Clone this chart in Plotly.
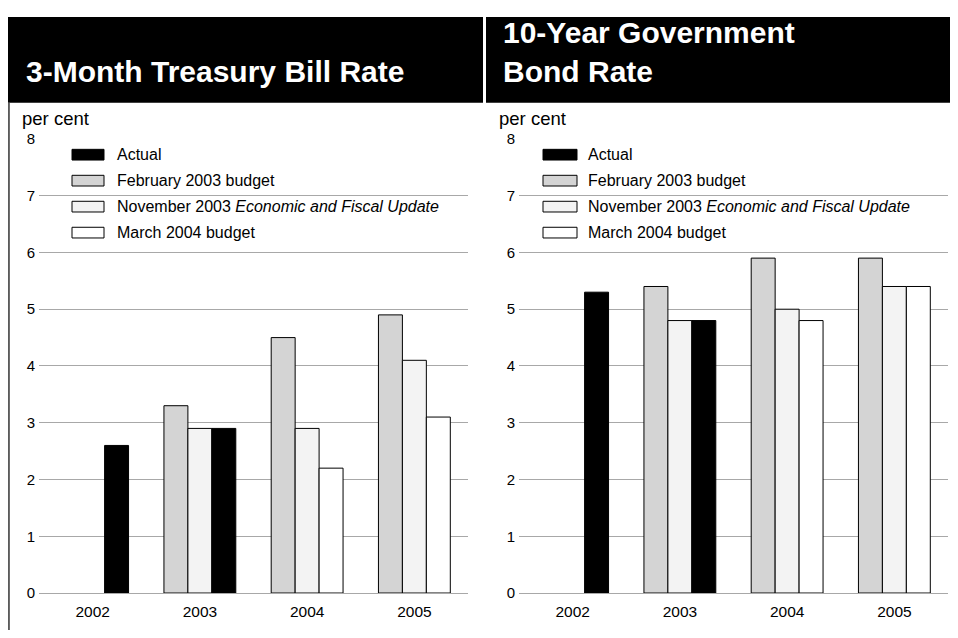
import plotly.graph_objects as go

# page body adds an 8px margin, so the figure is 8px smaller than the window
OFF = 8
W, H = 958 - OFF, 638 - OFF

# ---------------- data ----------------
years = ["2002", "2003", "2004", "2005"]
series_labels = [
    "Actual",
    "February 2003 budget",
    "November 2003 <i>Economic and Fiscal Update</i>",
    "March 2004 budget",
]
series_colors = ["#000000", "#d4d4d4", "#f3f3f3", "#ffffff"]

tbill_actual = [2.6, 2.9, None, None]
tbill_feb03 = [None, 3.3, 4.5, 4.9]
tbill_nov03 = [None, 2.9, 2.9, 4.1]
tbill_mar04 = [None, None, 2.2, 3.1]

bond_actual = [5.3, 4.8, None, None]
bond_feb03 = [None, 5.4, 5.9, 5.9]
bond_nov03 = [None, 4.8, 5.0, 5.4]
bond_mar04 = [None, None, 4.8, 5.4]

y_ticks = [0, 1, 2, 3, 4, 5, 6, 7, 8]
panel_titles = ["3-Month Treasury Bill Rate", "10-Year Government<br>Bond Rate"]
unit_label = "per cent"

# ---------------- layout helpers (window pixel -> paper) ----------------
def px(x):
    return max(0.0, (x - OFF) / W)

def py(y):
    return min(1.0, 1 - (y - OFF) / H)

FONT = "Liberation Sans, Arial, Helvetica, sans-serif"
panels = [
    dict(xaxis="x", yaxis="y", left=39, right=468, title_x=24, unit_x=20,
         sw_x=72, sw_w=32, txt_x=115, hdr=(4, 483),
         data=[tbill_actual, tbill_feb03, tbill_nov03, tbill_mar04]),
    dict(xaxis="x2", yaxis="y2", left=519, right=948, title_x=501, unit_x=497,
         sw_x=543, sw_w=34, txt_x=586, hdr=(486, 958),
         data=[bond_actual, bond_feb03, bond_nov03, bond_mar04]),
]
plot_top, plot_bottom = 133.3, 600
# draw order: Feb (slot 1), Nov (slot 2), March (slot 3), Actual (shares slot 3)
draw_order = [1, 2, 3, 0]
groups = {0: "c", 1: "a", 2: "b", 3: "c"}

fig = go.Figure()
for p in panels:
    for i in draw_order:
        fig.add_trace(go.Bar(
            x=years, y=p["data"][i], name=series_labels[i],
            offsetgroup=groups[i],
            marker=dict(color=series_colors[i], line=dict(color="#000000", width=1)),
            xaxis=p["xaxis"], yaxis=p["yaxis"], showlegend=False,
            hoverinfo="x+y",
        ))

shapes = []
annotations = []
for k, p in enumerate(panels):
    # black header
    shapes.append(dict(type="rect", xref="paper", yref="paper",
                       x0=px(p["hdr"][0]), x1=px(p["hdr"][1]),
                       y0=py(96), y1=py(2), fillcolor="#000000",
                       line=dict(width=0), layer="below"))
    # title
    annotations.append(dict(text=panel_titles[k], xref="paper", yref="paper",
                            x=px(p["title_x"]), y=py(83), xanchor="left", yanchor="bottom",
                            showarrow=False, align="left",
                            font=dict(family=FONT, size=30, color="#ffffff", weight="bold")))
    # unit
    annotations.append(dict(text=unit_label, xref="paper", yref="paper",
                            x=px(p["unit_x"]), y=py(112), xanchor="left", yanchor="middle",
                            showarrow=False, font=dict(family=FONT, size=18.5, color="#000000")))
    # legend
    for i, lab in enumerate(series_labels):
        yc = 149.5 + 26.7 * i
        shapes.append(dict(type="rect", xref="paper", yref="paper",
                           x0=px(p["sw_x"]), x1=px(p["sw_x"] + p["sw_w"]),
                           y0=py(yc + 5.5), y1=py(yc - 5.5),
                           fillcolor=series_colors[i], line=dict(color="#000000", width=1)))
        annotations.append(dict(text=lab, xref="paper", yref="paper",
                                x=px(p["txt_x"]), y=py(yc), xanchor="left", yanchor="middle",
                                showarrow=False, font=dict(family=FONT, size=16, color="#000000")))

# left frame line
shapes.append(dict(type="line", xref="paper", yref="paper", x0=0.001, x1=0.001,
                   y0=0, y1=py(96), line=dict(color="#333333", width=1.5)))

axis_common_y = dict(range=[0, 8], tickvals=y_ticks, showgrid=True, gridcolor="#a8a8a8",
                     gridwidth=1, zeroline=True, zerolinecolor="#a8a8a8", zerolinewidth=1,
                     showline=False, ticks="", ticklabelstandoff=3,
                     tickfont=dict(family=FONT, size=15, color="#000000"),
                     domain=[py(plot_bottom), py(plot_top)], fixedrange=True)
axis_common_x = dict(type="category", showgrid=False, zeroline=False, showline=False,
                     ticks="", ticklabelstandoff=7, range=[-0.5, 3.5],
                     tickfont=dict(family=FONT, size=15.5, color="#000000"), fixedrange=True)

fig.update_layout(
    width=W, height=H, margin=dict(l=0, r=0, t=0, b=0),
    paper_bgcolor="#ffffff", plot_bgcolor="#ffffff",
    barmode="group", bargap=0.33, bargroupgap=0,
    xaxis=dict(axis_common_x, domain=[px(panels[0]["left"]), px(panels[0]["right"])], anchor="y"),
    yaxis=dict(axis_common_y, anchor="x"),
    xaxis2=dict(axis_common_x, domain=[px(panels[1]["left"]), px(panels[1]["right"])], anchor="y2"),
    yaxis2=dict(axis_common_y, anchor="x2"),
    shapes=shapes, annotations=annotations, showlegend=False,
    font=dict(family=FONT),
)

fig.write_html("out.html")
